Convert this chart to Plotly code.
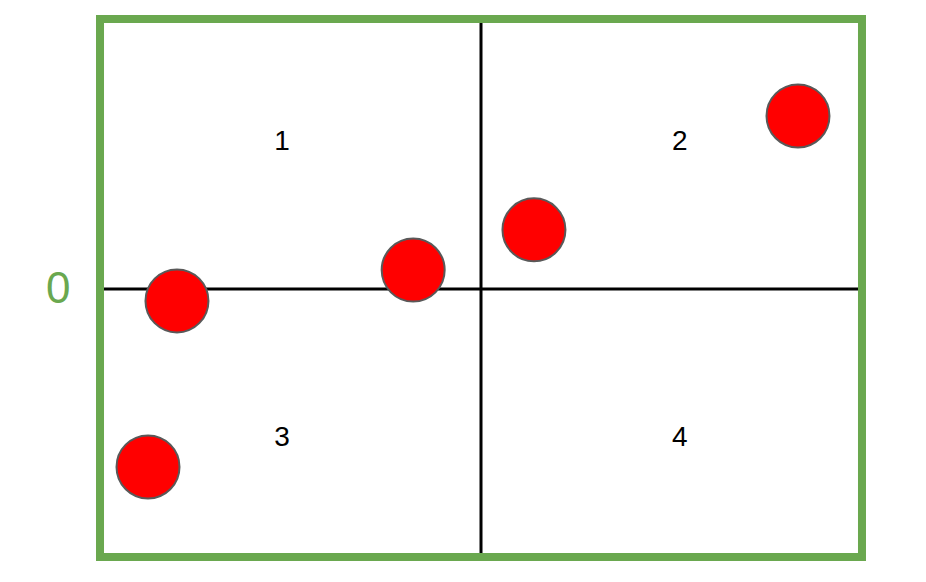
import plotly.graph_objects as go

# data (axis units: quadrant centre at 0,0; border at +-1)
point_x = [-0.798, -0.874, -0.178, 0.139, 0.832]
point_y = [-0.044, -0.659, 0.070, 0.219, 0.641]

quad_labels = ["1", "2", "3", "4"]
quad_x = [-0.522, 0.522, -0.522, 0.522]
quad_y = [0.541, 0.541, -0.556, -0.556]

zero_label = "0"

GREEN = "#6aa84f"

fig = go.Figure()

fig.add_trace(go.Scatter(
    x=point_x, y=point_y, mode="markers",
    marker=dict(size=63, color="#ff0000", line=dict(color="#595959", width=2)),
    hoverinfo="skip", showlegend=False,
))

fig.add_trace(go.Scatter(
    x=quad_x, y=quad_y, mode="text", text=quad_labels,
    textfont=dict(family="Liberation Sans, Arial, sans-serif", size=28, color="#000000"),
    hoverinfo="skip", showlegend=False,
))

# axes lines
fig.add_shape(type="line", x0=-1, x1=1, y0=0, y1=0,
              line=dict(color="#000000", width=3), layer="below")
fig.add_shape(type="line", x0=0, x1=0, y0=-0.993, y1=1.0,
              line=dict(color="#000000", width=3), layer="below")
# border
fig.add_shape(type="rect", x0=-1, x1=1, y0=-0.993, y1=1.0,
              line=dict(color=GREEN, width=8), layer="below")

fig.add_annotation(x=-1.1115, y=0.004, text=zero_label, showarrow=False,
                   font=dict(family="Liberation Sans, Arial, sans-serif", size=44, color=GREEN),
                   xanchor="center", yanchor="middle")

fig.update_layout(
    width=926, height=582,
    margin=dict(l=0, r=0, t=0, b=0),
    paper_bgcolor="white", plot_bgcolor="white",
    xaxis=dict(range=[-1.2415, 1.189], visible=False, fixedrange=True),
    yaxis=dict(range=[-1.1148, 1.0407], visible=False, fixedrange=True),
)

fig.write_html("out.html")
